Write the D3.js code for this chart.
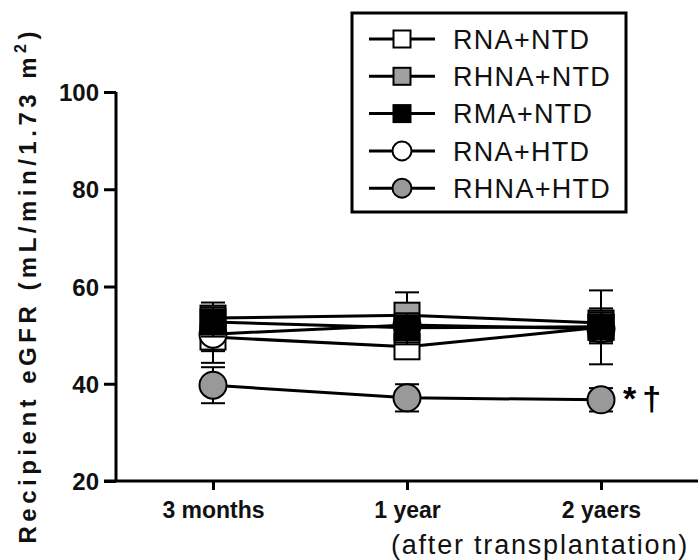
<!DOCTYPE html>
<html>
<head>
<meta charset="utf-8">
<script src="https://cdn.jsdelivr.net/npm/d3@7"></script>
<style>
  html, body { margin: 0; padding: 0; background: #fff; }
  svg { display: block; }
</style>
</head>
<body>
<svg id="chart" width="698" height="560"></svg>
<script>
// Recipient eGFR after transplantation, by donor/recipient group
const timepoints = ["3 months", "1 year", "2 yaers"];
const groupNames = ["RNA+NTD", "RHNA+NTD", "RMA+NTD", "RNA+HTD", "RHNA+HTD"];

// group means (mL/min/1.73 m2)
const rnaNtd   = [49.6, 47.6, 51.6];
const rhnaNtd  = [53.5, 54.1, 52.5];
const rmaNtd   = [52.7, 51.5, 51.7];
const rnaHtd   = [50.2, 52.1, 51.3];
const rhnaHtd  = [39.7, 37.1, 36.7];

// error bar half-lengths
const rnaNtdErr  = [5.3, 2.5, 7.6];
const rhnaNtdErr = [3.2, 4.7, 3.0];
const rmaNtdErr  = [3.0, 3.0, 3.0];
const rnaHtdErr  = [3.5, 4.0, 3.0];
const rhnaHtdErr = [3.7, 2.8, 2.4];

const yTicks = [20, 40, 60, 80, 100];
const significanceMark = "*\u2020";

const series = [
  { name: groupNames[0], values: rnaNtd,  err: rnaNtdErr,  shape: "square", fill: "#ffffff" },
  { name: groupNames[1], values: rhnaNtd, err: rhnaNtdErr, shape: "square", fill: "#a0a0a0" },
  { name: groupNames[2], values: rmaNtd,  err: rmaNtdErr,  shape: "square", fill: "#000000" },
  { name: groupNames[3], values: rnaHtd,  err: rnaHtdErr,  shape: "circle", fill: "#ffffff" },
  { name: groupNames[4], values: rhnaHtd, err: rhnaHtdErr, shape: "circle", fill: "#999999" }
];
// layering of the groups on the plot (later = on top)
const drawOrder = [0, 3, 1, 2, 4];

const svg = d3.select("#chart");
const axisFont = "'Liberation Sans', Arial, sans-serif";
const textFont = "'Liberation Sans', Arial, sans-serif";

const x = d3.scalePoint().domain(timepoints).range([116, 698]).padding(0.5);
const y = d3.scaleLinear().domain([20, 100]).range([481, 92]);

// axes
const yAxis = svg.append("g")
  .attr("transform", `translate(${x.range()[0]},0)`)
  .call(d3.axisLeft(y).tickValues(yTicks).tickSize(12).tickPadding(5));
const xAxis = svg.append("g")
  .attr("transform", `translate(0,${y.range()[0]})`)
  .call(d3.axisBottom(x).tickSize(9).tickPadding(8));

[yAxis, xAxis].forEach(g => {
  g.select(".domain").remove();
  g.selectAll(".tick line").attr("stroke", "#000").attr("stroke-width", 3);
  g.selectAll(".tick text")
    .attr("fill", "#111")
    .style("font-family", axisFont)
    .style("font-weight", "bold");
});
xAxis.selectAll(".tick text").attr("dy", "0.85em").style("font-size", "23px");
yAxis.selectAll(".tick text").attr("dy", "0.36em").style("font-size", "24px");

svg.append("line")
  .attr("x1", x.range()[0]).attr("x2", x.range()[0])
  .attr("y1", y(100)).attr("y2", y(20))
  .attr("stroke", "#000").attr("stroke-width", 3);
svg.append("line")
  .attr("x1", x.range()[0] - 12).attr("x2", x.range()[1])
  .attr("y1", y(20)).attr("y2", y(20))
  .attr("stroke", "#000").attr("stroke-width", 3);

// axis titles
const yTitle = svg.append("text")
  .attr("transform", `translate(36,${(30 + 545) / 2}) rotate(-90)`)
  .attr("text-anchor", "middle")
  .attr("fill", "#111")
  .style("font-family", axisFont)
  .style("font-weight", "bold")
  .style("font-size", "24px")
  .attr("textLength", 512)
  .attr("lengthAdjust", "spacing");
yTitle.append("tspan").text("Recipient eGFR (mL/min/1.73 m");
yTitle.append("tspan").attr("dy", -10).style("font-size", "16px").text("2");
yTitle.append("tspan").attr("dy", 10).text(")");

svg.append("text")
  .attr("x", 689).attr("y", 554)
  .attr("text-anchor", "end")
  .attr("fill", "#111")
  .style("font-family", textFont)
  .style("font-size", "27px")
  .style("letter-spacing", "1.8px")
  .text("(after transplantation)");

// connecting lines
const line = d3.line().x((d, i) => x(timepoints[i])).y(d => y(d));
drawOrder.forEach(k => {
  svg.append("path")
    .datum(series[k].values)
    .attr("d", line)
    .attr("fill", "none")
    .attr("stroke", "#000")
    .attr("stroke-width", 3);
});

function drawMarker(g, s, cx, cy, size) {
  if (s.shape === "square") {
    g.append("rect")
      .attr("x", cx - size / 2).attr("y", cy - size / 2)
      .attr("width", size).attr("height", size)
      .attr("fill", s.fill).attr("stroke", "#000").attr("stroke-width", 2);
  } else {
    g.append("circle")
      .attr("cx", cx).attr("cy", cy).attr("r", size / 2 + 1)
      .attr("fill", s.fill).attr("stroke", "#000").attr("stroke-width", 2);
  }
}

// error bars and markers
const capHalf = 12;
drawOrder.forEach(k => {
  const s = series[k];
  const g = svg.append("g");
  s.values.forEach((v, i) => {
    const cx = x(timepoints[i]);
    const hi = y(v + s.err[i]), lo = y(v - s.err[i]);
    g.append("line").attr("x1", cx).attr("x2", cx).attr("y1", hi).attr("y2", lo)
      .attr("stroke", "#000").attr("stroke-width", 2);
    [hi, lo].forEach(yy => g.append("line")
      .attr("x1", cx - capHalf).attr("x2", cx + capHalf).attr("y1", yy).attr("y2", yy)
      .attr("stroke", "#000").attr("stroke-width", 2));
    drawMarker(g, s, cx, y(v), 25);
  });
});

// significance mark beside the last point of RHNA+HTD
svg.append("text")
  .attr("x", x(timepoints[2]) + 22)
  .attr("y", y(rhnaHtd[2]))
  .attr("dy", "0.3em")
  .attr("fill", "#000")
  .style("font-family", textFont)
  .style("font-weight", "bold")
  .style("font-size", "34px")
  .style("letter-spacing", "6px")
  .text(significanceMark);

// legend
const legend = svg.append("g");
legend.append("rect")
  .attr("x", 352).attr("y", 13).attr("width", 274).attr("height", 199)
  .attr("fill", "#fff").attr("stroke", "#000").attr("stroke-width", 3);
series.forEach((s, i) => {
  const ly = 39 + i * 37.3;
  legend.append("line").attr("x1", 369).attr("x2", 435).attr("y1", ly).attr("y2", ly)
    .attr("stroke", "#000").attr("stroke-width", 3);
  drawMarker(legend, s, 402, ly, 17);
  legend.append("text")
    .attr("x", 453).attr("y", ly).attr("dy", "0.36em")
    .attr("fill", "#111")
    .style("font-family", textFont)
    .style("font-size", "27px")
    .style("letter-spacing", "1.3px")
    .text(s.name);
});
</script>
</body>
</html>
